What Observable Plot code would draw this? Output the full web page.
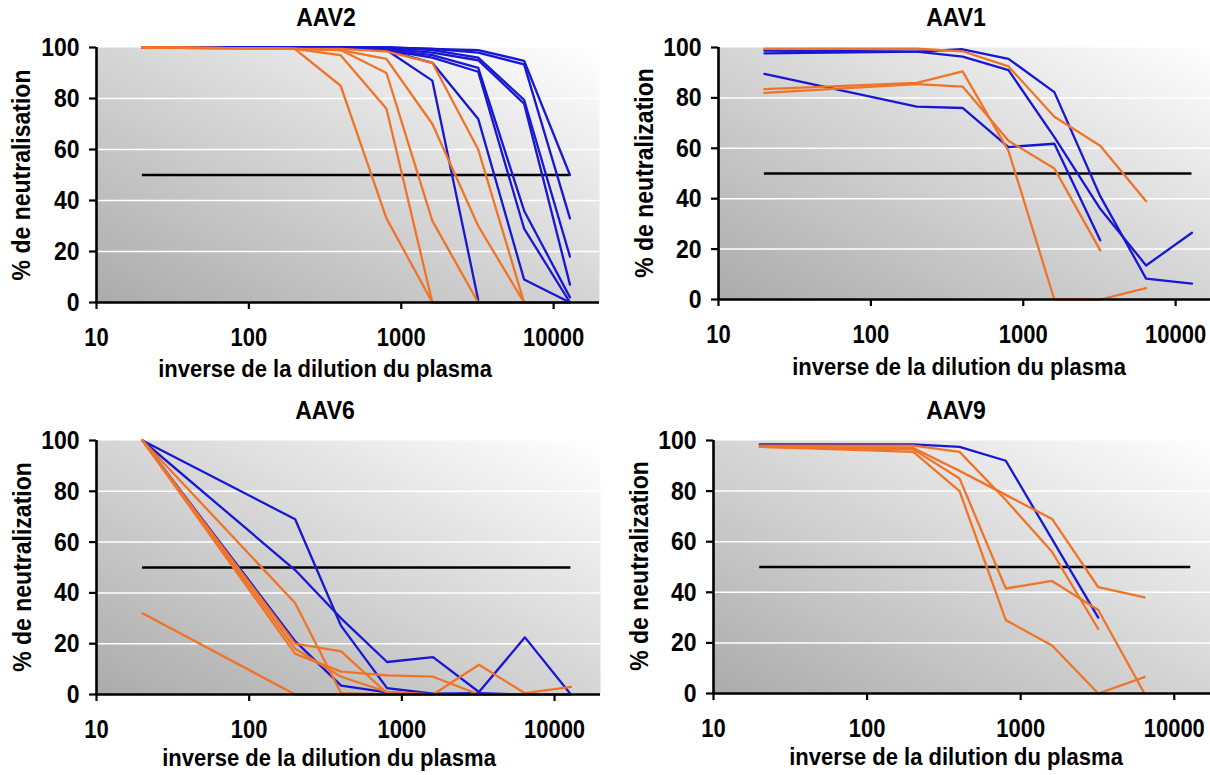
<!DOCTYPE html>
<html><head><meta charset="utf-8">
<script src="https://cdn.jsdelivr.net/npm/d3@7"></script>
<script src="https://cdn.jsdelivr.net/npm/@observablehq/plot@0.6"></script>
<style>
body{margin:0;background:#fff;font-family:"Liberation Sans",Arial,sans-serif;}
#page{position:relative;width:1210px;height:775px;overflow:hidden;background:#fff;}
.panel{position:absolute;}
.panel svg{overflow:visible;max-width:none !important;}
.lbl{position:absolute;font-weight:bold;color:#000;white-space:nowrap;transform:translate(-50%,-50%) scale(1,1.12);line-height:1.1;}
.ylbl{transform:translate(-50%,-50%) rotate(-90deg) scale(1,1.1);}
</style></head><body>
<svg width="0" height="0" style="position:absolute"><defs>
<linearGradient id="bg" x1="0" y1="1" x2="1" y2="0">
<stop offset="0" stop-color="#ababab"/><stop offset="1" stop-color="#ffffff"/>
</linearGradient></defs></svg>
<div id="page"></div>
<script>
// ---- data ----
const dilutions = [20, 200, 400, 800, 1600, 3200, 6400, 12800];
const xTicks = [10, 100, 1000, 10000];
const yTicks = [0, 20, 40, 60, 80, 100];
const gridValues = [20, 40, 60, 80];
const threshold = 50;

const aav2Blue = [
  [100, 100, 100, 99, 87, 1],
  [100, 100, 100, 99, 94, 72, 9, 0],
  [100, 100, 100, 100, 99.5, 99, 94.8, 50],
  [100, 100, 100, 100, 99.5, 98, 93.4, 33],
  [100, 100, 100, 100, 99, 96, 79.5, 18],
  [100, 100, 100, 99.5, 98, 95, 78, 7],
  [100, 100, 100, 99, 97, 92, 36, 2],
  [100, 100, 100, 99, 96, 90.5, 29, 0]
];
const aav2Orange = [
  [100, 99.5, 85, 33, 0, 0, 0, 0],
  [100, 99.5, 97, 76, 0, 0, 0, 0],
  [100, 99.5, 99, 90, 32, 0, 0, 0],
  [100, 99.5, 99, 95.5, 70, 30, 0, 0],
  [100, 99.5, 99.5, 98.5, 94, 60, 0, 0]
];

const aav1Blue = [
  [97.7, 98.4, 99.3, 95.5, 82.3, 41, 8.3, 6.3],
  [98.8, 98.4, 96.4, 91, 64.4, 36, 13.5, 26.5],
  [89.5, 76.5, 76, 60.5, 61.8, 23.5]
];
const aav1Orange = [
  [99.5, 99.5, 98.5, 92.5, 72.5, 61, 39],
  [83.5, 86, 90.5, 59, 0, 0, 4.5],
  [82, 85.5, 84.5, 63, 52, 19.5]
];

const aav6Blue = [
  [100, 69, 27, 2.5, 0.3, 0.5, 0, 0],
  [100, 49, 30, 12.8, 14.7, 1, 22.5, 0],
  [100, 21, 3.5, 0.8, 0, 0, 0, 0]
];
const aav6Orange = [
  [32, 0, 0, 0, 0, 0, 0, 0],
  [100, 36, 0.5, 0, 0, 0, 0, 0],
  [100, 20, 17, 0.5, 0, 0, 0, 0],
  [100, 16, 9, 7.5, 7, 0, 0, 0],
  [100, 18, 7, 1, 0, 11.7, 0.5, 3]
];

const aav9Blue = [
  [98.5, 98.5, 97.5, 92, 61, 30]
];
const aav9Orange = [
  [97.5, 97, 88, 78.5, 69, 42, 38],
  [98, 98, 95.5, 76.5, 56, 25.5],
  [97.5, 96.5, 85, 41.5, 44.5, 33, 0],
  [97.5, 95.5, 80, 29, 19, 0, 6.5]
];

const titles = ["AAV2", "AAV1", "AAV6", "AAV9"];
const yLabels = ["% de neutralisation", "% de neutralization", "% de neutralization", "% de neutralization"];
const xLabel = "inverse de la dilution du plasma";

// ---- layout ----
const BLUE = "#1717d4";
const ORANGE = "#f07428";
const layout = [
  {left: 0,   top: 0,   width: 605, height: 387, mL: 96,  mR: 6, mT: 47, mB: 85,
   title: [326, 18], xl: [325, 369], yl: [22, 175], blue: aav2Blue, orange: aav2Orange},
  {left: 605, top: 0,   width: 616, height: 387, mL: 113, mR: 0, mT: 47, mB: 88,
   title: [956, 18], xl: [959, 367], yl: [645, 173], blue: aav1Blue, orange: aav1Orange},
  {left: 0,   top: 387, width: 605, height: 388, mL: 96,  mR: 5, mT: 53, mB: 81,
   title: [325, 411], xl: [329, 758], yl: [23, 567], blue: aav6Blue, orange: aav6Orange},
  {left: 605, top: 387, width: 616, height: 388, mL: 108, mR: 1, mT: 53, mB: 82,
   title: [956, 411], xl: [956, 757], yl: [640, 566], blue: aav9Blue, orange: aav9Orange}
];

function toRows(series) {
  return series.flatMap((vals, i) => vals.map((v, j) => ({x: dilutions[j], y: v, id: i})));
}

const page = document.getElementById("page");

layout.forEach((L, k) => {
  const chart = Plot.plot({
    width: L.width, height: L.height,
    marginLeft: L.mL, marginRight: L.mR, marginTop: L.mT, marginBottom: L.mB,
    x: {type: "log", domain: [10, 20000]},
    y: {domain: [0, 100]},
    style: {fontFamily: "'Liberation Sans', Arial, sans-serif", fontWeight: "bold", fontSize: "22px", color: "#000", background: "transparent", overflow: "visible", maxWidth: "none"},
    marks: [
      Plot.frame({fill: "url(#bg)", stroke: null}),
      Plot.ruleY(gridValues, {stroke: "#ffffff", strokeWidth: 1.5}),
      Plot.ruleY([threshold], {x1: dilutions[0], x2: dilutions[dilutions.length - 1], stroke: "#000", strokeWidth: 2.6}),
      Plot.line(toRows(L.blue), {x: "x", y: "y", z: "id", stroke: BLUE, strokeWidth: 2.3}),
      Plot.line(toRows(L.orange), {x: "x", y: "y", z: "id", stroke: ORANGE, strokeWidth: 2.3}),
      Plot.ruleX([10], {stroke: "#000", strokeWidth: 2.6}),
      Plot.ruleY([0], {stroke: "#000", strokeWidth: 2.6}),
      Plot.axisX({ticks: xTicks, tickFormat: d => String(d), tickSize: 7, tickPadding: 19, fontSize: 22, label: null, strokeWidth: 2.2}),
      Plot.axisY({ticks: yTicks, tickFormat: d => String(d), tickSize: 7, tickPadding: 10, fontSize: 23, label: null, strokeWidth: 2.2})
    ]
  });
  // make the tick labels slightly taller, like the reference glyphs
  chart.querySelectorAll('g[aria-label$="tick label"] text').forEach(t => {
    const tr = t.getAttribute("transform");
    if (tr) t.setAttribute("transform", tr + " scale(1,1.15)");
  });
  const div = document.createElement("div");
  div.className = "panel";
  div.style.left = L.left + "px";
  div.style.top = L.top + "px";
  div.style.width = L.width + "px";
  div.style.height = L.height + "px";
  div.appendChild(chart);
  page.appendChild(div);

  const add = (text, pos, size, cls) => {
    const t = document.createElement("div");
    t.className = "lbl" + (cls ? " " + cls : "");
    t.textContent = text;
    t.style.left = pos[0] + "px";
    t.style.top = pos[1] + "px";
    t.style.fontSize = size + "px";
    page.appendChild(t);
  };
  add(titles[k], L.title, 23);
  add(xLabel, L.xl, 22);
  add(yLabels[k], L.yl, 23, "ylbl");
});
</script>
</body></html>
